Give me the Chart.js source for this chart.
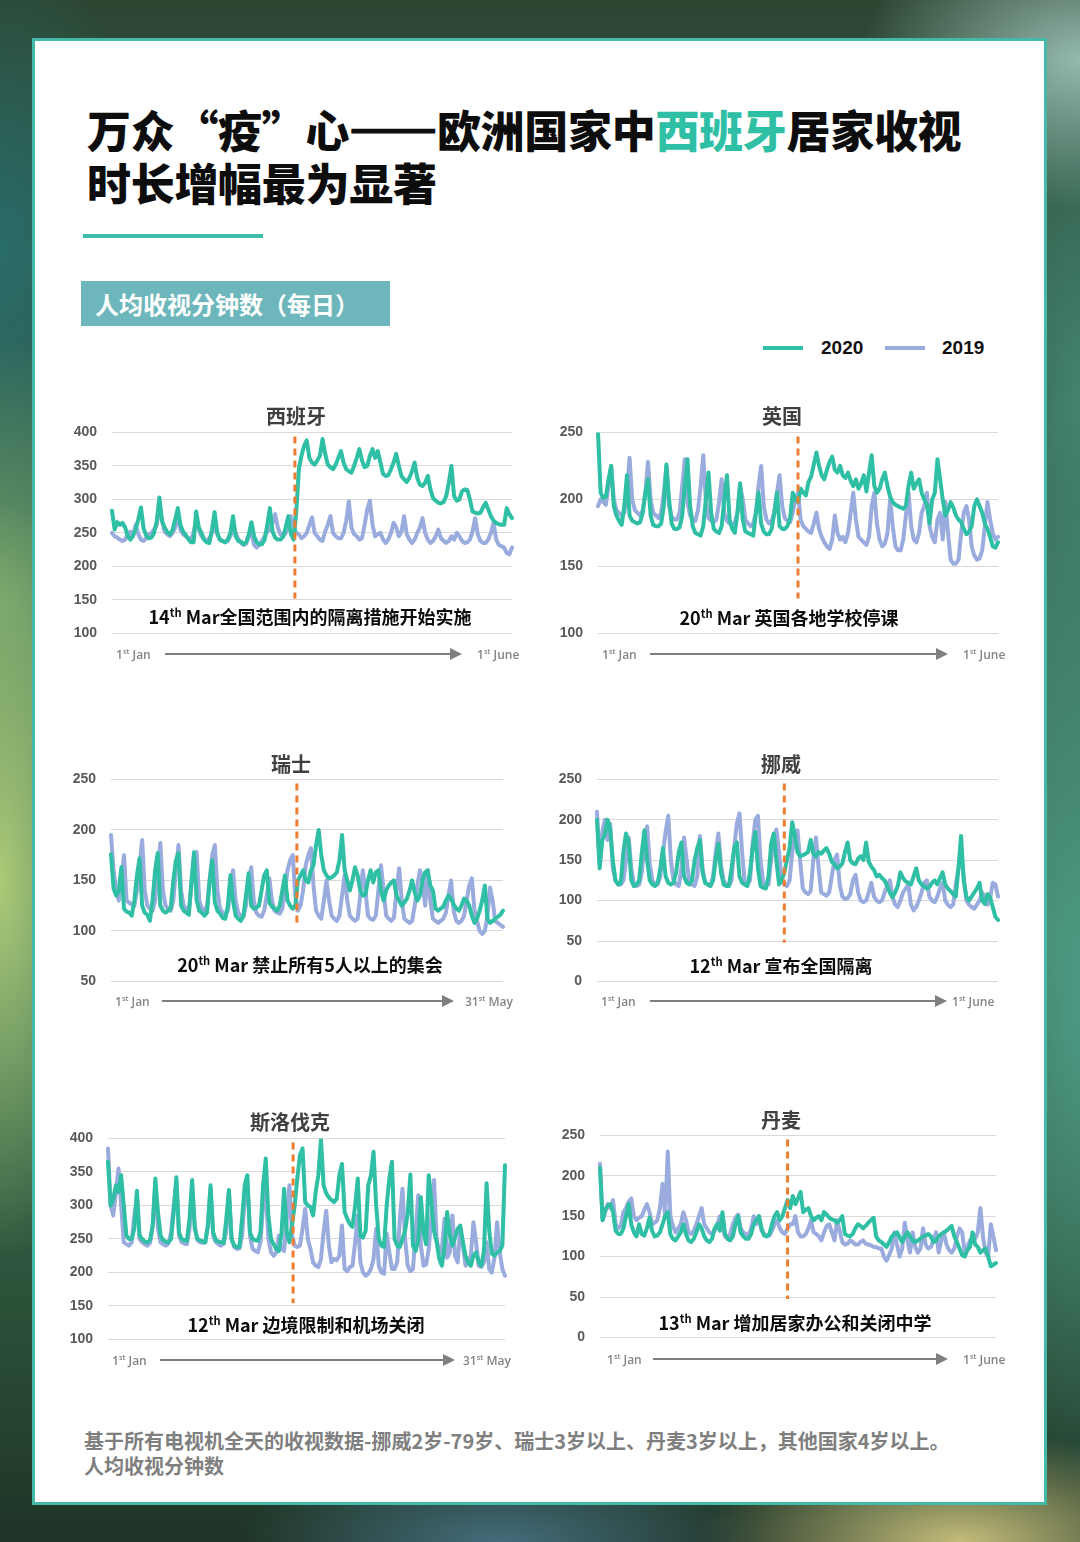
<!DOCTYPE html>
<html lang="zh-CN">
<head>
<meta charset="utf-8">
<title>万众“疫”心——欧洲国家中西班牙居家收视时长增幅最为显著</title>
<script src="https://cdn.jsdelivr.net/npm/chart.js@4.4.1/dist/chart.umd.min.js"></script>
<style>
  html, body { margin: 0; padding: 0; }
  body {
    width: 1080px; height: 1542px; position: relative; overflow: hidden;
    font-family: "Noto Sans CJK SC", sans-serif;
    background:
      radial-gradient(ellipse 120px 380px at 0px 880px, rgba(178,206,120,0.95), rgba(178,206,120,0) 100%),
      radial-gradient(ellipse 140px 260px at 0px 600px, rgba(120,170,110,0.8), rgba(120,170,110,0) 100%),
      radial-gradient(ellipse 220px 150px at 1080px 60px, rgba(160,196,186,0.9), rgba(160,196,186,0) 100%),
      radial-gradient(ellipse 260px 90px at 500px 1542px, rgba(70,112,128,0.95), rgba(70,112,128,0) 100%),
      radial-gradient(ellipse 260px 110px at 960px 1542px, rgba(204,196,126,0.95), rgba(204,196,126,0) 100%),
      radial-gradient(ellipse 120px 500px at 1080px 1000px, rgba(80,160,140,0.85), rgba(80,160,140,0) 100%),
      radial-gradient(ellipse 110px 400px at 1080px 400px, rgba(70,140,120,0.8), rgba(70,140,120,0) 100%),
      radial-gradient(ellipse 160px 300px at 0px 250px, rgba(40,110,110,0.9), rgba(40,110,110,0) 100%),
      linear-gradient(180deg, #2c4632 0%, #35624f 30%, #3f7a5e 60%, #2b5038 85%, #1f3427 100%);
  }
  .card {
    position: absolute; left: 32px; top: 38px; width: 1009px; height: 1461px;
    background: #fff; border: 3px solid #44b9a7;
  }
  .abs { position: absolute; white-space: nowrap; }
  .title {
    left: 87px; top: 103px; font-size: 44px; line-height: 53px; font-weight: 900;
    color: #0d0d0d; letter-spacing: -0.3px;
  }
  .title .hl { color: #2ebfa5; }
  .title .dash { -webkit-text-stroke: 2.5px #0d0d0d; }
  .rule { left: 83px; top: 234px; width: 180px; height: 4px; background: #3dbcaa; }
  .badge {
    left: 81px; top: 281px; width: 309px; height: 45px; background: #6db7bc;
    color: #fff; font-size: 24px; font-weight: 700; line-height: 45px; text-indent: 14px;
  }
  .legline { height: 4px; width: 40px; top: 346px; }
  .legtext { top: 337px; font-family: "Liberation Sans", sans-serif; font-weight: 700; font-size: 19px; color: #111; }
  .ctitle { font-size: 20px; font-weight: 700; color: #404040; transform: translate(-50%, -50%); }
  .note { font-size: 18px; font-weight: 700; color: #0d0d0d; transform: translate(-50%, -50%); }
  sup { font-size: 0.62em; vertical-align: 0.6em; line-height: 0; }
  .tl { font-family: "Open Sans", sans-serif; font-size: 12px; font-weight: 600; color: #858585; transform: translateY(-50%); }
  .arrow { height: 2px; background: #7f7f7f; }
  .arrow::after {
    content: ""; position: absolute; right: -2px; top: -5px;
    border-left: 12px solid #7f7f7f; border-top: 6px solid transparent; border-bottom: 6px solid transparent;
  }
  .foot { left: 84px; font-size: 20px; font-weight: 700; color: #7f7f7f; line-height: 25px; letter-spacing: 0; }
  .panel { position: absolute; }
  .panel canvas { display: block; }
</style>
</head>
<body>
<div class="card"></div>
<div class="abs title">万众“疫”心<span class="dash">——</span>欧洲国家中<span class="hl">西班牙</span>居家收视<br>时长增幅最为显著</div>
<div class="abs rule"></div>
<div class="abs badge">人均收视分钟数（每日）</div>
<div class="abs legline" style="left:763px;background:#2ebfa5;"></div>
<div class="abs legtext" style="left:821px;">2020</div>
<div class="abs legline" style="left:885px;background:#9aabdd;"></div>
<div class="abs legtext" style="left:942px;">2019</div>
<div class="abs foot" style="top:1428px;">基于所有电视机全天的收视数据-挪威2岁-79岁、瑞士3岁以上、丹麦3岁以上，其他国家4岁以上。</div>
<div class="abs foot" style="top:1453px;">人均收视分钟数</div>

<script>
// daily minutes per person, 1 Jan - 1 Jun
const spain2020 = [
  283,255,266,262,265,258,245,240,246,256,
  270,288,257,246,242,243,250,267,303,268,
  258,251,248,254,270,287,262,252,247,241,
  236,236,282,258,250,240,236,235,255,281,
  250,240,238,236,240,250,275,245,238,237,
  233,236,248,266,245,236,233,233,240,262,
  287,252,243,240,240,244,258,275,248,240,
  280,345,365,380,388,362,355,352,358,365,
  390,368,352,348,345,352,362,372,355,345,
  342,340,350,362,375,358,348,350,365,375,
  362,372,355,338,335,336,345,355,368,350,
  335,330,326,332,342,355,332,322,320,325,
  335,315,302,298,295,294,296,305,325,350,
  305,298,300,312,315,314,300,282,280,279,
  280,288,295,285,275,268,265,263,262,262,
  287,278,272
];
const spain2019 = [
  250,245,243,240,238,240,248,252,245,262,
  248,240,238,242,248,250,255,262,293,268,
  252,248,245,250,258,275,255,248,245,242,
  240,250,270,255,245,240,238,242,250,262,
  248,240,238,236,238,245,258,250,240,235,
  232,234,245,250,232,228,232,238,245,252,
  255,265,278,258,248,245,250,260,275,262,
  250,248,242,245,250,262,273,250,245,240,
  238,252,262,275,250,245,242,242,250,268,
  297,258,248,245,240,242,262,285,298,262,
  245,248,250,240,235,240,250,265,258,245,
  252,275,248,240,235,240,250,258,272,250,
  240,235,238,245,255,242,238,235,238,245,
  240,250,245,238,235,236,240,252,272,248,
  238,235,235,240,250,265,240,232,230,228,
  220,218,228
];
const uk2020 = [
  250,205,201,202,215,225,195,188,184,181,
  195,218,188,184,183,182,183,190,205,215,
  188,181,180,180,182,195,226,200,182,178,
  178,179,188,210,230,195,180,175,174,173,
  180,200,220,190,178,176,175,180,200,218,
  185,178,175,190,212,185,176,175,174,173,
  190,205,182,176,174,174,178,190,205,180,
  178,178,180,186,205,200,198,208,205,203,
  213,217,226,235,225,218,215,222,228,232,
  222,220,225,218,216,220,214,210,215,208,
  212,218,206,220,233,210,205,208,215,220,
  210,202,198,196,195,194,193,195,210,220,
  208,212,215,205,200,196,182,200,205,230,
  215,200,188,192,198,194,188,185,183,178,
  174,176,180,195,200,195,190,182,178,172,
  165,164,168
];
const uk2019 = [
  195,200,198,196,210,225,200,192,190,188,
  190,205,231,200,192,190,188,192,205,228,
  200,190,188,186,190,205,225,195,187,185,
  185,190,210,230,198,188,185,184,192,210,
  233,198,186,184,183,185,198,215,190,184,
  182,181,183,190,210,200,185,182,180,182,
  190,210,225,195,185,182,184,190,205,218,
  195,186,184,183,190,200,205,185,180,178,
  176,175,182,190,178,172,168,165,163,170,
  188,175,170,172,168,175,190,205,185,172,
  170,168,166,172,195,205,182,170,165,167,
  175,200,180,165,162,162,170,188,205,180,
  170,168,175,190,195,205,180,172,168,185,
  190,170,198,175,155,152,152,155,175,190,
  195,185,165,158,155,156,162,180,198,185,
  175,170,172
];
// 1 Jan - 31 May
const swiss2020 = [
  176,142,135,140,163,122,119,118,115,130,
  155,172,125,118,116,110,130,160,177,125,
  120,118,120,122,150,170,177,125,120,118,
  116,150,178,130,120,118,115,118,150,170,
  128,120,117,113,112,125,155,130,115,112,
  110,115,135,157,125,122,123,125,140,155,
  160,128,124,122,120,125,140,155,130,125,
  122,125,150,155,160,150,148,160,165,185,
  200,175,160,155,152,153,155,158,170,195,
  160,150,140,150,163,155,140,135,136,150,
  160,148,158,160,140,130,140,145,148,150,
  135,130,125,128,132,140,150,138,130,135,
  150,158,160,145,140,122,120,122,124,130,
  135,132,126,122,120,125,132,130,125,115,
  108,112,120,130,145,112,108,110,112,114,
  116,120
];
const swiss2019 = [
  195,160,140,130,150,175,130,128,126,125,
  140,165,190,140,125,122,120,130,160,187,
  140,125,122,120,130,160,185,140,125,122,
  120,145,175,178,130,122,120,125,150,175,
  185,140,122,118,116,120,140,160,130,118,
  115,114,125,150,163,130,118,115,114,120,
  135,152,130,120,118,117,122,140,160,170,
  175,135,120,125,140,165,175,182,145,120,
  115,112,130,150,130,115,112,110,115,135,
  155,130,115,112,110,112,135,160,140,115,
  112,111,115,140,165,140,115,112,110,113,
  140,162,130,112,110,108,110,125,145,160,
  150,125,160,130,112,110,108,110,112,118,
  135,150,120,110,108,110,115,130,145,152,
  120,110,100,97,100,115,143,130,110,108,
  106,104
];
const norway2020 = [
  200,140,175,182,200,188,150,125,120,122,
  160,183,172,125,118,120,125,160,187,150,
  125,120,118,122,140,165,130,122,120,122,
  135,160,172,130,122,120,125,150,165,175,
  135,122,120,118,125,150,170,135,120,118,
  118,140,165,172,130,122,120,118,135,165,
  185,140,118,116,115,130,170,183,150,120,
  125,135,150,165,197,180,160,155,156,158,
  160,175,158,155,160,158,162,165,158,148,
  145,140,142,146,160,172,150,146,145,152,
  155,150,172,148,142,138,130,132,128,125,
  118,110,104,110,118,135,128,124,122,120,
  130,140,125,120,118,115,117,122,125,120,
  128,135,120,115,112,108,105,140,180,125,
  105,100,105,110,115,122,100,96,108,104,
  92,80,76
];
const norway2019 = [
  210,145,185,200,175,195,140,125,120,120,
  125,150,178,140,120,118,120,135,170,192,
  145,125,120,120,130,160,185,205,150,125,
  120,118,140,178,150,122,120,118,130,180,
  140,122,120,118,130,160,183,145,125,120,
  118,125,165,195,208,160,122,120,125,170,
  200,205,150,122,118,120,150,175,188,160,
  125,120,118,125,160,180,187,150,115,110,
  108,112,150,178,140,110,108,106,110,130,
  150,157,120,105,102,103,108,125,132,110,
  100,98,100,110,122,105,100,98,100,110,
  118,125,105,95,92,100,110,115,120,95,
  88,92,100,110,122,125,105,100,98,105,
  115,122,100,95,92,95,120,140,158,130,
  100,95,92,90,95,100,110,105,95,102,
  122,120,105
];
// 1 Jan - 31 May
const slovakia2020 = [
  365,300,310,330,320,345,300,255,250,250,
  265,322,255,250,246,245,248,270,340,290,
  255,248,246,245,250,290,342,260,250,248,
  247,280,338,265,250,248,246,245,270,330,
  260,248,246,245,244,280,323,250,240,238,
  238,280,330,345,260,250,248,247,260,330,
  370,285,250,242,235,232,258,325,260,245,
  270,300,340,375,385,305,300,298,285,320,
  345,398,330,318,312,308,305,310,345,362,
  290,280,272,268,300,340,255,252,262,330,
  345,380,300,250,240,238,300,340,365,250,
  240,238,250,262,288,346,240,232,248,312,
  260,242,345,305,262,245,220,210,240,290,
  255,240,252,265,270,245,225,215,210,225,
  230,215,210,232,333,262,228,225,230,232,
  240,360
];
const slovakia2019 = [
  385,300,285,320,355,300,245,242,240,245,
  285,310,250,245,242,240,244,270,330,265,
  245,242,240,243,260,300,335,255,245,243,
  242,265,330,270,248,245,244,245,270,325,
  255,245,242,240,243,262,320,250,238,235,
  236,255,310,335,255,235,232,230,245,300,
  325,250,230,225,230,255,235,232,280,330,
  255,240,238,240,265,295,250,235,215,210,
  208,220,260,292,240,215,220,218,225,270,
  205,202,208,210,245,285,215,200,195,198,
  205,220,265,210,200,198,258,230,205,205,
  215,280,325,250,210,202,205,260,315,240,
  210,212,235,285,338,250,228,235,280,222,
  230,285,225,215,265,240,210,215,225,275,
  245,210,208,215,245,205,200,222,275,230,
  205,195
];
const denmark2020 = [
  210,145,158,163,165,155,132,128,128,135,
  150,165,140,130,125,140,128,126,135,148,
  132,125,126,130,140,150,155,128,122,120,
  125,130,140,128,120,118,122,130,140,135,
  125,120,118,122,135,140,132,155,128,122,
  120,125,140,150,130,125,122,122,128,140,
  145,150,135,126,125,128,140,150,155,145,
  150,160,170,160,175,165,172,180,155,158,
  160,150,145,148,150,145,155,152,148,146,
  145,142,145,150,128,126,125,128,135,140,
  138,135,138,142,145,148,125,120,118,115,
  112,118,125,128,130,124,118,125,130,125,
  120,118,120,122,125,126,128,125,118,120,
  125,128,130,132,135,138,125,118,110,102,
  100,108,112,130,115,112,105,108,110,100,
  88,90,92
];
const denmark2019 = [
  215,145,155,165,160,170,140,135,138,155,
  160,168,172,150,145,148,150,158,165,155,
  140,142,145,160,190,150,230,150,138,130,
  135,140,155,145,130,128,132,140,150,160,
  140,135,130,128,132,140,150,135,125,122,
  128,140,148,152,135,130,128,126,135,150,
  140,150,132,128,125,126,132,140,145,135,
  130,128,135,140,140,150,130,125,125,128,
  135,145,130,128,125,120,130,138,140,130,
  120,145,132,118,115,116,120,118,115,115,
  118,120,116,115,114,112,112,110,110,100,
  95,102,110,130,115,100,110,142,120,105,
  130,112,105,110,135,115,110,112,120,130,
  105,120,130,115,108,105,110,125,135,130,
  105,112,120,118,122,130,160,125,105,100,
  140,125,108
];

// y-axis tick labels
const ticks400 = [100, 150, 200, 250, 300, 350, 400];
const ticksUK = [100, 150, 200, 250];
const ticksSwiss = [50, 100, 150, 200, 250];
const ticks250 = [0, 50, 100, 150, 200, 250];

// where the dashed lockdown line sits, in days after 1 Jan (as drawn in the picture)
const markerDays = [69.5, 76, 71.6, 71, 70.4, 72];

const GREEN = '#2ebfa5';
const BLUE = '#9aabdd';

function makeDays(count) {
    const days = [];
    const d = new Date(2020, 0, 1);
    for (let i = 0; i < count; i++) {
        days.push((d.getMonth() + 1) + '/' + d.getDate());
        d.setDate(d.getDate() + 1);
    }
    return days;
}

const markerPlugin = {
    id: 'marker',
    afterDatasetsDraw(chart, args, opts) {
        const { ctx, chartArea, scales } = chart;
        const x = scales.x.getPixelForValue(opts.day);
        const y0 = chartArea.top + 4;
        const y1 = chartArea.top + (chartArea.bottom - chartArea.top) * opts.reach;
        ctx.save();
        ctx.strokeStyle = '#ed7d31';
        ctx.lineWidth = 3;
        ctx.setLineDash([7, 5]);
        ctx.beginPath();
        ctx.moveTo(x, y0);
        ctx.lineTo(x, y1);
        ctx.stroke();
        ctx.restore();
    }
};

function addText(cls, html, x, y) {
    const el = document.createElement('div');
    el.className = 'abs ' + cls;
    el.innerHTML = html;
    el.style.left = x + 'px';
    el.style.top = y + 'px';
    document.body.appendChild(el);
    return el;
}

function drawPanel(p) {
    // p.plot = [left, right, top, bottom] of the plotting area on the page
    const left = p.plot[0] - 52;
    const width = p.plot[1] - left + 4;

    const box = document.createElement('div');
    box.className = 'panel';
    box.style.cssText = `left:${left}px;top:${p.plot[2] - 20}px;width:${width}px;height:${p.plot[3] - p.plot[2] + 40}px;`;
    const canvas = document.createElement('canvas');
    box.appendChild(canvas);
    document.body.appendChild(box);

    const chart = new Chart(canvas.getContext('2d'), {
        type: 'line',
        data: {
            labels: makeDays(p.y2020.length),
            datasets: [
                { label: '2020', data: p.y2020, borderColor: GREEN, borderWidth: 4 },
                { label: '2019', data: p.y2019, borderColor: BLUE, borderWidth: 4 }
            ]
        },
        options: {
            responsive: true,
            maintainAspectRatio: false,
            animation: false,
            devicePixelRatio: 1,
            layout: { padding: { top: 0, bottom: 0, left: 0, right: 4 } },
            elements: {
                point: { radius: 0 },
                line: { tension: 0, borderJoinStyle: 'round', borderCapStyle: 'round' }
            },
            plugins: {
                legend: { display: false },
                tooltip: { enabled: false },
                marker: { day: p.marker, reach: p.reach }
            },
            scales: {
                x: { display: false, offset: false },
                y: {
                    min: p.ticks[0],
                    max: p.ticks[p.ticks.length - 1],
                    ticks: {
                        stepSize: p.ticks[1] - p.ticks[0],
                        padding: 15,
                        color: '#595959',
                        font: { family: 'Liberation Sans', size: 14, weight: 'bold' }
                    },
                    grid: { color: '#d9d9d9', lineWidth: 1, drawTicks: false },
                    border: { display: false },
                    afterFit(scale) { scale.width = 52; }
                }
            }
        },
        plugins: [markerPlugin]
    });

    // the y axis reserves room above/below for its labels: shift the box so the
    // plotting area lands on the wanted page rows
    const padTop = chart.chartArea.top;
    const padBottom = chart.height - chart.chartArea.bottom;
    box.style.top = (p.plot[2] - padTop) + 'px';
    box.style.height = (p.plot[3] - p.plot[2] + padTop + padBottom) + 'px';
    chart.resize();

    addText('ctitle', p.title, p.titleAt[0], p.titleAt[1]);
    addText('note', p.note, p.noteAt[0], p.noteAt[1]);

    const r = p.row;
    addText('tl', '1<sup>st</sup> Jan', r.jan, r.y);
    const arrow = addText('arrow', '', r.from, r.y - 1);
    arrow.style.width = (r.to - r.from) + 'px';
    addText('tl', r.endText, r.end, r.y);
}

document.addEventListener('DOMContentLoaded', () => {
    const panels = [
        { title: '西班牙', titleAt: [296, 415], plot: [112, 512, 432, 633], ticks: ticks400,
          y2020: spain2020, y2019: spain2019, marker: markerDays[0], reach: 0.826,
          note: '14<sup>th</sup> Mar全国范围内的隔离措施开始实施', noteAt: [310, 616],
          row: { y: 654, jan: 116, from: 165, to: 460, end: 477, endText: '1<sup>st</sup> June' } },
        { title: '英国', titleAt: [782, 415], plot: [598, 998, 432, 633], ticks: ticksUK,
          y2020: uk2020, y2019: uk2019, marker: markerDays[1], reach: 0.826,
          note: '20<sup>th</sup> Mar 英国各地学校停课', noteAt: [789, 617],
          row: { y: 654, jan: 602, from: 650, to: 946, end: 963, endText: '1<sup>st</sup> June' } },
        { title: '瑞士', titleAt: [291, 763], plot: [111, 503, 779, 981], ticks: ticksSwiss,
          y2020: swiss2020, y2019: swiss2019, marker: markerDays[2], reach: 0.72,
          note: '20<sup>th</sup> Mar 禁止所有5人以上的集会', noteAt: [310, 964],
          row: { y: 1001, jan: 115, from: 162, to: 452, end: 465, endText: '31<sup>st</sup> May' } },
        { title: '挪威', titleAt: [781, 763], plot: [597, 998, 779, 981], ticks: ticks250,
          y2020: norway2020, y2019: norway2019, marker: markerDays[3], reach: 0.807,
          note: '12<sup>th</sup> Mar 宣布全国隔离', noteAt: [781, 965],
          row: { y: 1001, jan: 601, from: 650, to: 945, end: 952, endText: '1<sup>st</sup> June' } },
        { title: '斯洛伐克', titleAt: [290, 1121], plot: [108, 505, 1138, 1339], ticks: ticks400,
          y2020: slovakia2020, y2019: slovakia2019, marker: markerDays[4], reach: 0.82,
          note: '12<sup>th</sup> Mar 边境限制和机场关闭', noteAt: [306, 1324],
          row: { y: 1360, jan: 112, from: 160, to: 453, end: 463, endText: '31<sup>st</sup> May' } },
        { title: '丹麦', titleAt: [781, 1119], plot: [600, 996, 1135, 1337], ticks: ticks250,
          y2020: denmark2020, y2019: denmark2019, marker: markerDays[5], reach: 0.81,
          note: '13<sup>th</sup> Mar 增加居家办公和关闭中学', noteAt: [795, 1322],
          row: { y: 1359, jan: 607, from: 653, to: 946, end: 963, endText: '1<sup>st</sup> June' } }
    ];
    panels.forEach(drawPanel);
});
</script>
</body>
</html>
